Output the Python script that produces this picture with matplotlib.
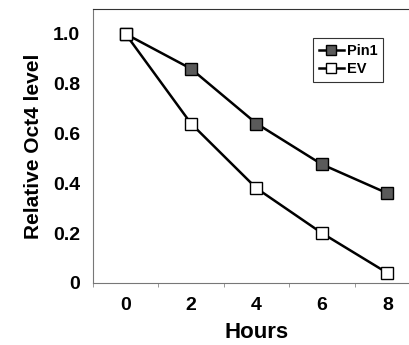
import matplotlib
matplotlib.use("Agg")
import matplotlib.pyplot as plt

hours = [0, 2, 4, 6, 8]
pin1 = [1.0, 0.86, 0.64, 0.476, 0.36]
ev = [1.0, 0.64, 0.38, 0.2, 0.04]
yticks = [0, 0.2, 0.4, 0.6, 0.8, 1.0]
ylabels = ["0", "0.2", "0.4", "0.6", "0.8", "1.0"]

plt.rcParams['font.family'] = ['Liberation Sans', 'DejaVu Sans']
plt.rcParams['font.weight'] = 'bold'

fig = plt.figure(figsize=(4.09, 3.45), dpi=100)
ax = fig.add_axes([0.227, 0.18, 0.80, 0.794])

ax.plot(hours, pin1, color='black', lw=1.8, marker='s', ms=8,
        mfc='#5a5a5a', mec='black', mew=1.0, label='Pin1')
ax.plot(hours, ev, color='black', lw=1.8, marker='s', ms=9,
        mfc='white', mec='black', mew=1.0, label='EV')

ax.set_xlim(-1, 9)
ax.set_ylim(0, 1.1)
ax.set_xticks(hours)
ax.set_xticklabels([str(h) for h in hours], fontsize=14, fontweight='bold')
ax.set_xticks([-1, 1, 3, 5, 7], minor=True)
ax.tick_params(axis='x', which='major', length=0, pad=10)
ax.tick_params(axis='x', which='minor', length=3, color='#888888', width=0.6)
ax.set_yticks(yticks)
ax.set_yticklabels(ylabels, fontsize=14, fontweight='bold')
ax.tick_params(axis='y', length=0, pad=9)

for s in ['left', 'bottom', 'top']:
    ax.spines[s].set_linestyle((0, (1, 1)))
    ax.spines[s].set_color('#777777')
    ax.spines[s].set_linewidth(0.8)
ax.spines['top'].set_color('#333333')
ax.spines['right'].set_visible(False)

ax.set_xlabel('Hours', fontsize=16, fontweight='bold', labelpad=6)
ax.set_ylabel('Relative Oct4 level', fontsize=15, fontweight='bold', labelpad=7)

leg = ax.legend(loc='upper right', bbox_to_anchor=(0.887, 0.894), fontsize=10.5,
                handlelength=1.7, handletextpad=0.2, borderpad=0.4,
                labelspacing=0.3, fancybox=False, framealpha=1,
                borderaxespad=0)
leg.get_frame().set_edgecolor('#333333')
leg.get_frame().set_linewidth(0.8)
for h in leg.legend_handles:
    h.set_markersize(7)
for t in leg.get_texts():
    t.set_fontweight('bold')

fig.savefig('out.png', dpi=100)
